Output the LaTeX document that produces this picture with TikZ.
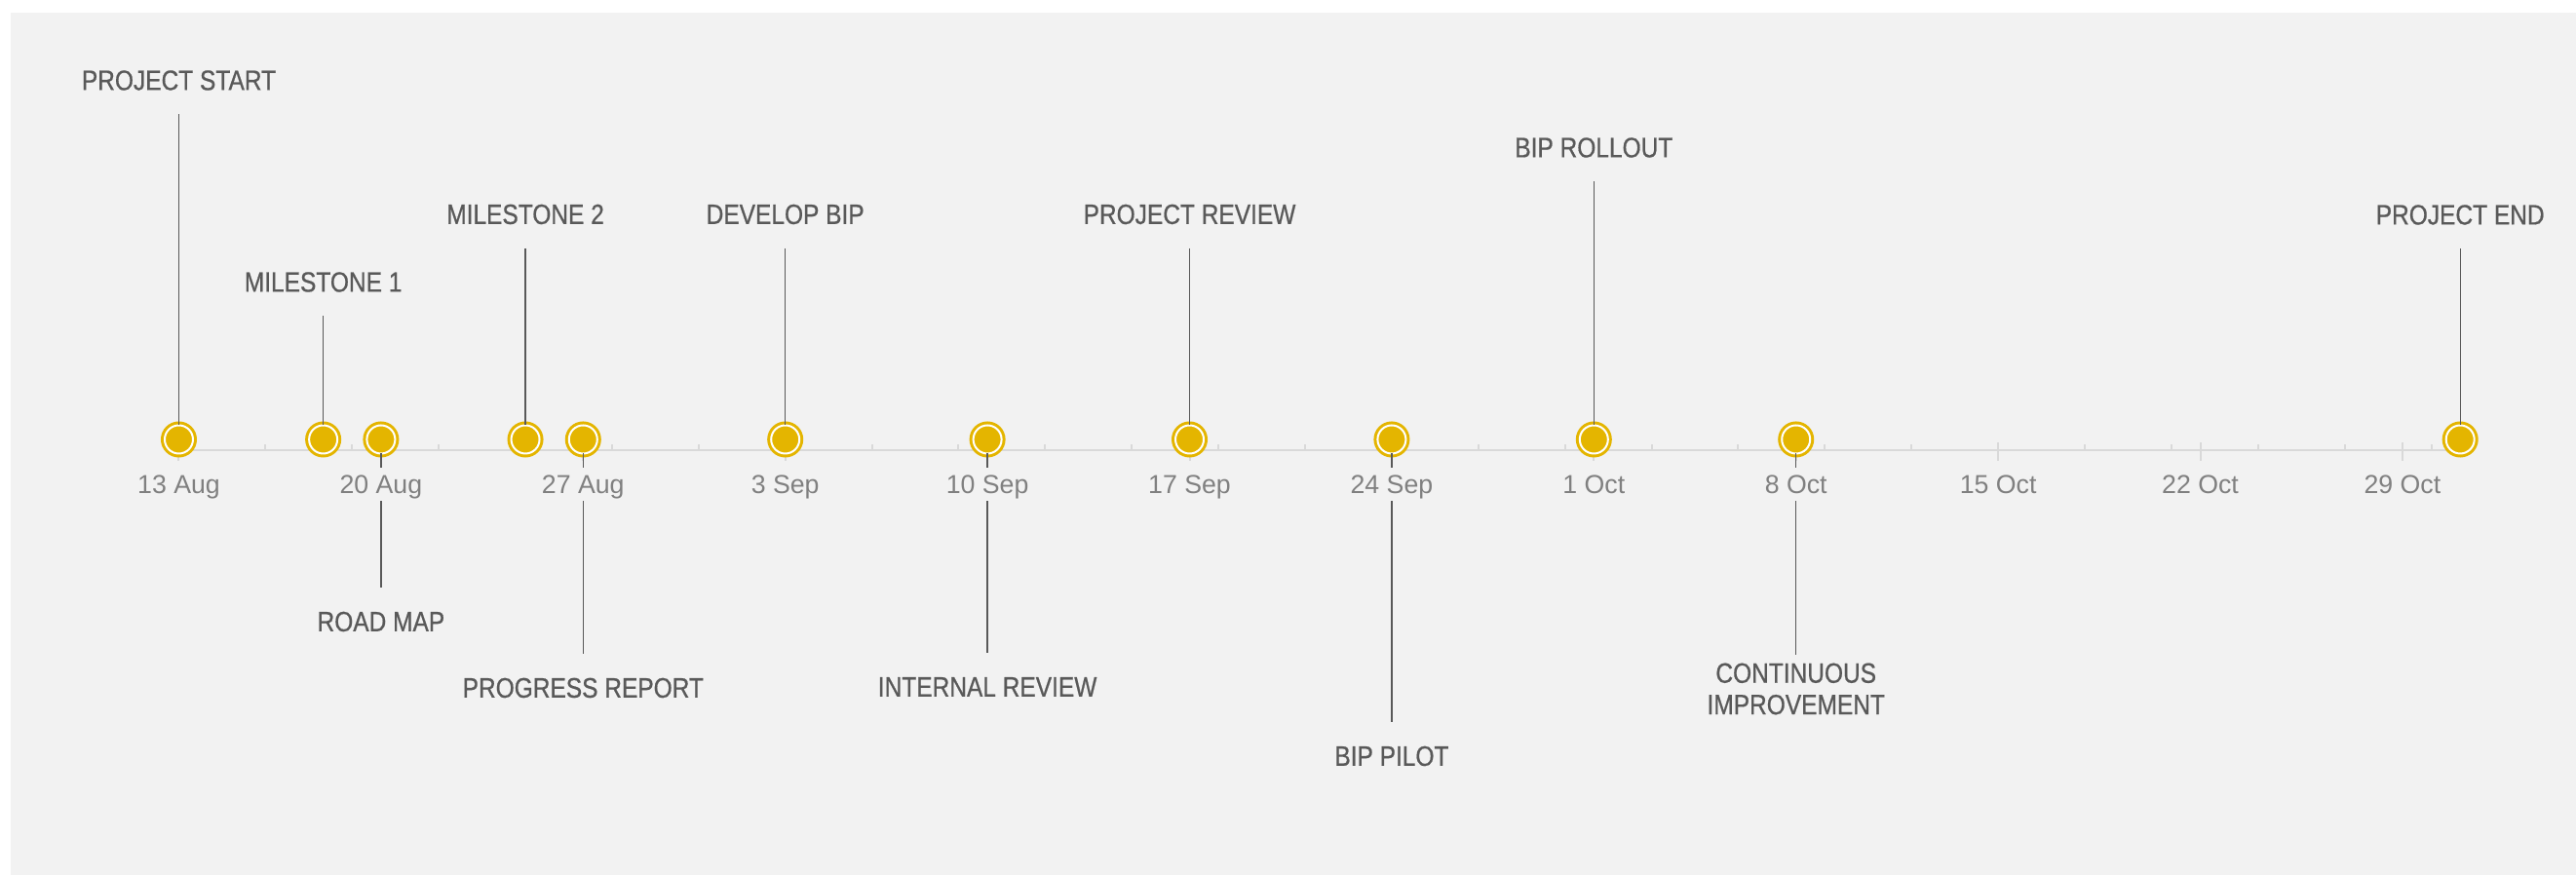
\documentclass[tikz,border=0pt]{standalone}
\usepackage{fontspec}
\setmainfont{Liberation Sans}
\newfontfamily\narrowfont[FakeStretch=0.85,FakeBold=0.6]{Liberation Sans}
\usepackage{tikz}

\definecolor{bg}{HTML}{F2F2F2}
\definecolor{gold}{RGB}{228,181,0}
\definecolor{axisgray}{HTML}{D9D9D9}
\definecolor{labelgray}{HTML}{595959}
\definecolor{dategray}{HTML}{808080}

\tikzset{
  evdot/.style={shape=circle,fill=gold,draw=gold,line width=0.03cm,double=white,double distance=0.02cm,minimum size=0.29cm,inner sep=0pt,outer sep=0pt},
  evlabel/.style={font=\narrowfont\fontsize{8.2}{9.2}\selectfont,text=labelgray,align=center,minimum height=0.7cm,inner sep=0pt,outer sep=0pt},
  daylabel/.style={font=\fontsize{7.6}{8}\selectfont,text=dategray,fill=bg,text height=0.19cm,text depth=0pt,inner ysep=0.075cm,inner xsep=0.05cm},
  stem/.style={draw=labelgray,line width=0.4pt},
  axisline/.style={draw=axisgray,line width=0.02cm}
}

\begin{document}
\begin{tikzpicture}[x=0.2963cm,y=1cm]
\useasboundingbox (-6.193,-4.355) rectangle (83.01,4.625);
\fill [bg] (-5.822,-4.355) rectangle (83.01,4.495);

\draw [axisline] (0,0) -- (79,0);
\foreach \d in {0,3,...,78} \draw [axisline] (\d,0) -- (\d,0.06);
\foreach \d in {0,7,...,77} \draw [axisline] (\d,-0.102) -- (\d,0.085);

\node (start) at (0,0.115) [evdot] {};
\node (ms1) at (5,0.115) [evdot] {};
\node (map) at (7,0.115) [evdot] {};
\node (ms2) at (12,0.115) [evdot] {};
\node (report) at (14,0.115) [evdot] {};
\node (develop) at (21,0.115) [evdot] {};
\node (internal) at (28,0.115) [evdot] {};
\node (review) at (35,0.115) [evdot] {};
\node (pilot) at (42,0.115) [evdot] {};
\node (rollout) at (49,0.115) [evdot] {};
\node (improve) at (56,0.115) [evdot] {};
\node (finish) at (79,0.115) [evdot] {};

\node (startlbl) at (0,3.80) [evlabel] {PROJECT START};
\node (ms1lbl) at (5,1.73) [evlabel] {MILESTONE 1};
\node (maplbl) at (7,-1.755) [evlabel] {ROAD MAP};
\node (ms2lbl) at (12,2.425) [evlabel] {MILESTONE 2};
\node (reportlbl) at (14,-2.435) [evlabel] {PROGRESS REPORT};
\node (developlbl) at (21,2.425) [evlabel] {DEVELOP BIP};
\node (internallbl) at (28,-2.425) [evlabel] {INTERNAL REVIEW};
\node (reviewlbl) at (35,2.425) [evlabel] {PROJECT REVIEW};
\node (pilotlbl) at (42,-3.135) [evlabel] {BIP PILOT};
\node (rolloutlbl) at (49,3.11) [evlabel] {BIP ROLLOUT};
\node (improvelbl) at (56,-2.445) [evlabel] {CONTINUOUS\\IMPROVEMENT};
\node (finishlbl) at (79,2.42) [evlabel] {PROJECT END};

\draw [stem] (startlbl) -- (start);
\draw [stem] (ms1lbl) -- (ms1);
\draw [stem] (map) -- (maplbl);
\draw [stem] (ms2lbl) -- (ms2);
\draw [stem] (report) -- (reportlbl);
\draw [stem] (developlbl) -- (develop);
\draw [stem] (internal) -- (internallbl);
\draw [stem] (reviewlbl) -- (review);
\draw [stem] (pilot) -- (pilotlbl);
\draw [stem] (rolloutlbl) -- (rollout);
\draw [stem] (improve) -- (improvelbl);
\draw [stem] (finishlbl) -- (finish);

\foreach \d/\t in {0/13 Aug,7/20 Aug,14/27 Aug,21/3 Sep,28/10 Sep,35/17 Sep,42/24 Sep,49/1 Oct,56/8 Oct,63/15 Oct,70/22 Oct,77/29 Oct}
  \node (day\d) at (\d,-0.345) [daylabel] {\t};
\end{tikzpicture}
\end{document}
